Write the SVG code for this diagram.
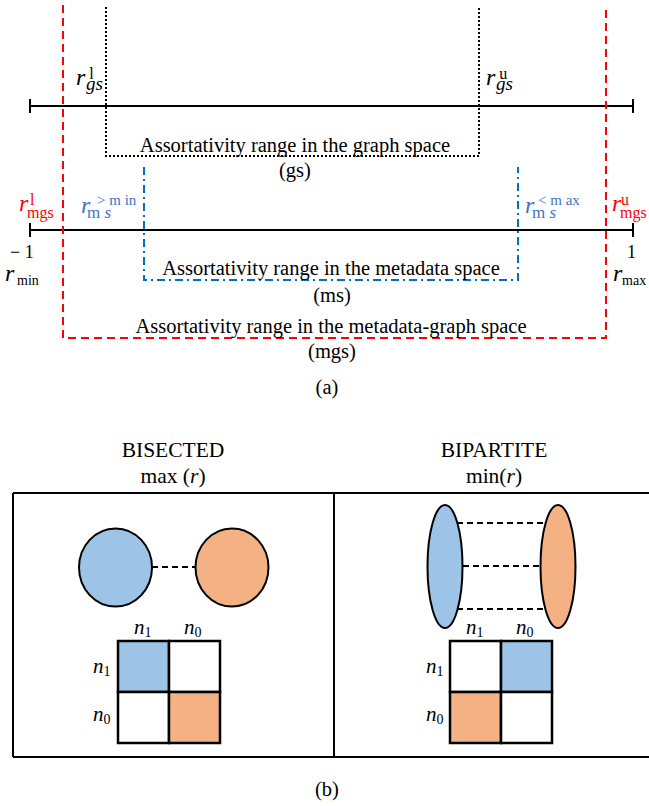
<svg xmlns="http://www.w3.org/2000/svg" width="649" height="806" viewBox="0 0 649 806">
<style>
.t{font-family:"Liberation Serif","Times New Roman",serif;fill:#000}
.c{text-anchor:middle}
.i{font-style:italic}
.n{font-style:normal}
.axis{stroke:#000;stroke-width:2;fill:none}
.red{stroke:#FF0000;stroke-width:2;fill:none;stroke-dasharray:8 5}
.dot{stroke:#000;stroke-width:2;fill:none;stroke-dasharray:2 2}
.bdd{stroke:#0070C0;stroke-width:2;fill:none;stroke-dasharray:8 4 2 4}
.edge{stroke:#000;stroke-width:2;fill:none;stroke-dasharray:6 4}
.node{stroke:#000;stroke-width:2}
.blue{fill:#9DC3E6}
.orange{fill:#F4B183}
.cell{stroke:#000;stroke-width:2.5}
</style>
<rect width="649" height="806" fill="#fff"/>

<g id="part-a">
  <g id="axes">
    <path class="axis" d="M30 106H633M30 99V113M633 99V113"/>
    <path class="axis" d="M30 230H633M30 223V237M633 223V237"/>
  </g>
  <g id="ranges">
    <path class="red" d="M63 5V338H606V5"/>
    <path class="dot" d="M106 7V156H479V7"/>
    <path class="bdd" d="M144 167V280H518V167"/>
  </g>
  <g id="range-labels" class="t c" font-size="20.5">
    <text x="295" y="152">Assortativity range in the graph space</text>
    <text x="295" y="177">(gs)</text>
    <text x="331" y="275">Assortativity range in the metadata space</text>
    <text x="332" y="302">(ms)</text>
    <text x="331" y="333">Assortativity range in the metadata-graph space</text>
    <text x="332" y="358">(mgs)</text>
    <text x="327" y="394">(a)</text>
  </g>
  <g id="math-labels" class="t">
    <text x="76" y="85" font-size="24" class="i">r<tspan font-size="19" dx="0.7" dy="5">gs</tspan><tspan class="n" font-size="16" dx="-13.7" dy="-11">l</tspan></text>
    <text x="486" y="85" font-size="24" class="i">r<tspan font-size="19" dx="0.7" dy="5">gs</tspan><tspan class="n" font-size="16" dx="-13.7" dy="-11">u</tspan></text>

    <text x="19" y="211" font-size="24" class="i" fill="#FF0000">r<tspan class="n" font-size="16" dx="-1.3" dy="7">mgs</tspan><tspan class="n" font-size="16" dx="-23.7" dy="-13">l</tspan></text>
    <text x="612" y="211" font-size="24" class="i" fill="#FF0000">r<tspan class="n" font-size="16" dx="-1.3" dy="7">mgs</tspan><tspan class="n" font-size="16" dx="-25.7" dy="-13">u</tspan></text>

    <text x="81" y="213" font-size="24" class="i" fill="#4472C4">r<tspan font-size="17" dx="-3.3" dy="5"><tspan class="n">m </tspan>s</tspan><tspan class="n" font-size="15" dx="-14.1" dy="-13">&gt; m in</tspan></text>
    <text x="525" y="213" font-size="24" class="i" fill="#4472C4">r<tspan font-size="17" dx="-2.3" dy="5"><tspan class="n">m </tspan>s</tspan><tspan class="n" font-size="15" dx="-18.1" dy="-13">&lt; m ax</tspan></text>

    <text x="10" y="258" font-size="18">− 1</text>
    <text x="5" y="281" font-size="24" class="i">r<tspan class="n" font-size="14" dx="2.7" dy="4">min</tspan></text>

    <text x="627" y="258" font-size="18">1</text>
    <text x="613" y="281" font-size="24" class="i">r<tspan class="n" font-size="14" dx="-0.3" dy="4">max</tspan></text>
  </g>
</g>

<g id="part-b">
  <g id="headings" class="t c" font-size="21.5">
    <text x="173" y="457">BISECTED</text>
    <text x="173" y="483">max (<tspan class="i">r</tspan>)</text>
    <text x="494" y="457">BIPARTITE</text>
    <text x="494" y="483">min(<tspan class="i">r</tspan>)</text>
    <text x="327" y="796" font-size="20.5">(b)</text>
  </g>
  <g id="frame">
    <path class="axis" d="M13 493H651M13 757H651M13 493V757M334 493V757" stroke-width="2.5"/>
  </g>
  <g id="connectors">
    <path class="edge" d="M152 567H195"/>
    <path class="edge" d="M457 523H544M463 566H540M457 609H544"/>
  </g>
  <g id="bisected-n1"><ellipse class="node blue" cx="115.5" cy="567.5" rx="36.5" ry="39"/></g>
  <g id="bisected-n0"><ellipse class="node orange" cx="232" cy="567.5" rx="36.5" ry="39"/></g>
  <g id="bipartite-n1"><ellipse class="node blue" cx="445" cy="566.5" rx="17.5" ry="61.5"/></g>
  <g id="bipartite-n0"><ellipse class="node orange" cx="558" cy="566.5" rx="17.5" ry="61.5"/></g>

  <g id="matrix-bisected">
    <rect class="cell blue" x="118" y="641" width="51" height="51"/>
    <rect class="cell" fill="#fff" x="169" y="641" width="51" height="51"/>
    <rect class="cell" fill="#fff" x="118" y="692" width="51" height="51"/>
    <rect class="cell orange" x="169" y="692" width="51" height="51"/>
    <g class="t i" font-size="21">
      <text x="134" y="634">n<tspan class="n" font-size="14" dy="3">1</tspan></text>
      <text x="184" y="634">n<tspan class="n" font-size="14" dy="3">0</tspan></text>
      <text x="93" y="673">n<tspan class="n" font-size="14" dy="3">1</tspan></text>
      <text x="93" y="721">n<tspan class="n" font-size="14" dy="3">0</tspan></text>
    </g>
  </g>
  <g id="matrix-bipartite">
    <rect class="cell" fill="#fff" x="450" y="641" width="51" height="51"/>
    <rect class="cell blue" x="501" y="641" width="51" height="51"/>
    <rect class="cell orange" x="450" y="692" width="51" height="51"/>
    <rect class="cell" fill="#fff" x="501" y="692" width="51" height="51"/>
    <g class="t i" font-size="21">
      <text x="466" y="634">n<tspan class="n" font-size="14" dy="3">1</tspan></text>
      <text x="516" y="634">n<tspan class="n" font-size="14" dy="3">0</tspan></text>
      <text x="426" y="673">n<tspan class="n" font-size="14" dy="3">1</tspan></text>
      <text x="426" y="721">n<tspan class="n" font-size="14" dy="3">0</tspan></text>
    </g>
  </g>
</g>
</svg>
